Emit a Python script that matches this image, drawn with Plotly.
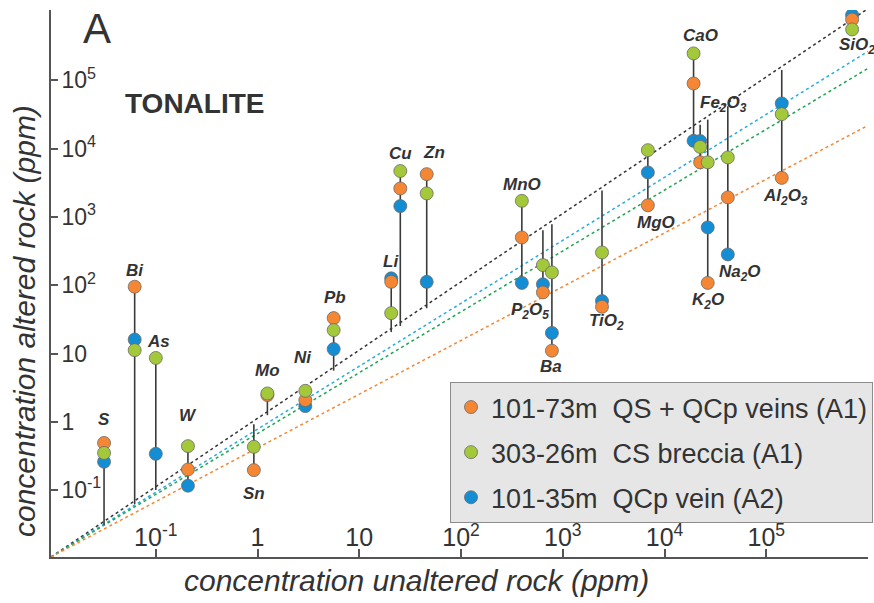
import plotly.graph_objects as go
import numpy as np

# ---------------- data ----------------
elements = ["S", "Bi", "As", "W", "Sn", "Mo", "Ni", "Pb", "Li", "Cu", "Zn", "MnO",
            "P2O5", "Ba", "TiO2", "MgO", "CaO", "Fe2O3", "K2O", "Na2O", "Al2O3", "SiO2"]
element_labels = ["S", "Bi", "As", "W", "Sn", "Mo", "Ni", "Pb", "Li", "Cu", "Zn", "MnO",
                  "P<sub>2</sub>O<sub>5</sub>", "Ba", "TiO<sub>2</sub>", "MgO", "CaO",
                  "Fe<sub>2</sub>O<sub>3</sub>", "K<sub>2</sub>O", "Na<sub>2</sub>O",
                  "Al<sub>2</sub>O<sub>3</sub>", "SiO<sub>2</sub>"]
# concentration in unaltered rock (ppm)
unaltered = [0.031, 0.062, 0.10, 0.207, 0.92, 1.25, 2.95, 5.6, 20.6, 25.3, 46, 396,
             638, 782, 2430, 6860, 19300, 22400, 26600, 41900, 142000, 698000]
# concentration in altered rock (ppm)
s_101_73 = [0.49, 95, None, 0.20, 0.196, 2.46, 2.08, 33, 112, 2610, 4230, 501,
            78.5, 11, 48.3, 1480, 90000, 6300, 108, 1930, 3730, 777000]
s_303_26 = [0.35, 11.2, 8.6, 0.44, 0.43, 2.6, 2.84, 22, 39, 4700, 2210, 1720,
            197, 154, 302, 9500, 248000, 10600, 6300, 7430, 32000, 556000]
s_101_35 = [0.26, 16, 0.34, 0.116, None, None, 1.70, 11.6, 126, 1440, 112, 108,
            103, 20, 58.5, 4480, 13000, 12900, 702, 282, 45900, 901000]

series_names = ["101-73m  QS + QCp veins (A1)", "303-26m  CS breccia (A1)", "101-35m  QCp vein (A2)"]
series_colors = ["#F58634", "#A3C93A", "#138DD3"]

# reference lines (log-log slope from the axis origin)
ref_slopes = [1.0, 0.922, 0.891, 0.787]
ref_colors = ["#333333", "#29ABE2", "#1FA453", "#F58634"]

x_tickvals = [0.1, 1, 10, 100, 1e3, 1e4, 1e5]
x_ticktext = ["10<sup>-1</sup>", "1", "10", "10<sup>2</sup>", "10<sup>3</sup>", "10<sup>4</sup>", "10<sup>5</sup>"]
y_tickvals = [0.1, 1, 10, 100, 1e3, 1e4, 1e5]
y_ticktext = ["10<sup>-1</sup>", "1", "10", "10<sup>2</sup>", "10<sup>3</sup>", "10<sup>4</sup>", "10<sup>5</sup>"]

# label placement: (side, xshift px, yshift px)
label_place = {
    "S": ("top", 0, 23), "Bi": ("top", 0, 16), "As": ("top", 3, 16), "W": ("top", 0, 31),
    "Sn": ("bottom", 0, -23), "Mo": ("top", 0, 23), "Ni": ("top", -2, 33), "Pb": ("top", 1, 21),
    "Li": ("top", 0, 17), "Cu": ("top", 0, 18), "Zn": ("top", 7, 22), "MnO": ("top", 0, 16),
    "P2O5": ("bottom", -13, -19), "Ba": ("bottom", -1, -16), "TiO2": ("bottom", 4, -15),
    "MgO": ("bottom", 8, -17), "CaO": ("top", 7, 18), "Fe2O3": ("top", 23, 37),
    "K2O": ("bottom", 0, -18), "Na2O": ("bottom", 12, -19), "Al2O3": ("bottom", 4, -19),
    "SiO2": ("bottom", 5, -17),
}

XR = [-2.03, 6.0]
YR = [-1.98, 6.03]
FONT = "Liberation Sans, Arial, sans-serif"
TXT = "#333333"

fig = go.Figure()

# reference lines
x0, y0 = 10 ** XR[0], 10 ** YR[0]
xs = np.logspace(XR[0], XR[1], 50)
for m, c in zip(ref_slopes, ref_colors):
    fig.add_trace(go.Scatter(x=xs, y=y0 * (xs / x0) ** m, mode="lines",
                             line=dict(color=c, width=1.5, dash="dot"),
                             showlegend=False, hoverinfo="skip"))

# vertical connectors from unaltered value (on 1:1 line) to extreme altered values
vx, vy = [], []
for i, xv in enumerate(unaltered):
    vals = [v for v in (s_101_73[i], s_303_26[i], s_101_35[i]) if v is not None] + [xv]
    vx += [xv, xv, None]
    vy += [min(vals), max(vals), None]
fig.add_trace(go.Scatter(x=vx, y=vy, mode="lines", line=dict(color="#3a3a3a", width=1.6),
                         showlegend=False, hoverinfo="skip"))

# markers: draw order blue, orange, green
all_series = [s_101_73, s_303_26, s_101_35]
for idx in [2, 0, 1]:
    fig.add_trace(go.Scatter(
        x=unaltered, y=all_series[idx], mode="markers", name=series_names[idx],
        marker=dict(size=13, color=series_colors[idx], line=dict(color="#6b6b6b", width=0.8)),
        legendrank=idx + 1, legendgroup=f"g{idx}"))

# element labels
for i, el in enumerate(elements):
    vals = [v for v in (s_101_73[i], s_303_26[i], s_101_35[i]) if v is not None]
    side, dx, dy = label_place[el]
    yv = max(vals) if side == "top" else min(vals)
    fig.add_annotation(x=np.log10(unaltered[i]), y=np.log10(yv), text=f"<b><i>{element_labels[i]}</i></b>",
                       showarrow=False, xshift=dx, yshift=dy, xanchor="center", yanchor="middle",
                       font=dict(family=FONT, size=17, color=TXT))

def paper_pt(px, py):
    return (px - 51) / 817, (557 - py) / 547

# panel texts
for txt, (px, py), size, ang in [
    ("A", (97, 28), 42, 0),
    ("<b>TONALITE</b>", (194, 103), 28, 0),
    ("<i>concentration unaltered rock (ppm)</i>", (416, 580), 30, 0),
    ("<i>concentration altered rock (ppm)</i>", (24, 321), 30, -90),
]:
    xp, yp = paper_pt(px, py)
    fig.add_annotation(xref="paper", yref="paper", x=xp, y=yp, text=txt, showarrow=False,
                       xanchor="center", yanchor="middle", textangle=ang,
                       font=dict(family=FONT, size=size, color=TXT))

fig.update_xaxes(type="log", range=XR, showline=True, linecolor="#555555", linewidth=2,
                 ticks="inside", ticklen=8, tickwidth=2, tickcolor="#555555",
                 tickvals=x_tickvals, ticktext=x_ticktext, ticklabelposition="inside",
                 tickfont=dict(family=FONT, size=25, color=TXT), showgrid=False, zeroline=False,
                 automargin=False)
fig.update_yaxes(type="log", range=YR, showline=True, linecolor="#555555", linewidth=2,
                 ticks="inside", ticklen=7, tickwidth=2, tickcolor="#555555",
                 tickvals=y_tickvals, ticktext=y_ticktext, ticklabelposition="inside",
                 ticklabelstandoff=5, automargin=False,
                 tickfont=dict(family=FONT, size=23, color=TXT), showgrid=False, zeroline=False)

fig.update_layout(
    width=874, height=603, margin=dict(l=51, r=6, t=10, b=46, autoexpand=False),
    plot_bgcolor="white", paper_bgcolor="white",
    legend=dict(xref="container", yref="container", x=450 / 874, y=1 - 382 / 603,
                xanchor="left", yanchor="top",
                bgcolor="#E6E6E6", bordercolor="#8C8C8C", borderwidth=1,
                font=dict(family=FONT, size=27, color=TXT), tracegroupgap=7),
)

fig.write_html("out.html")
